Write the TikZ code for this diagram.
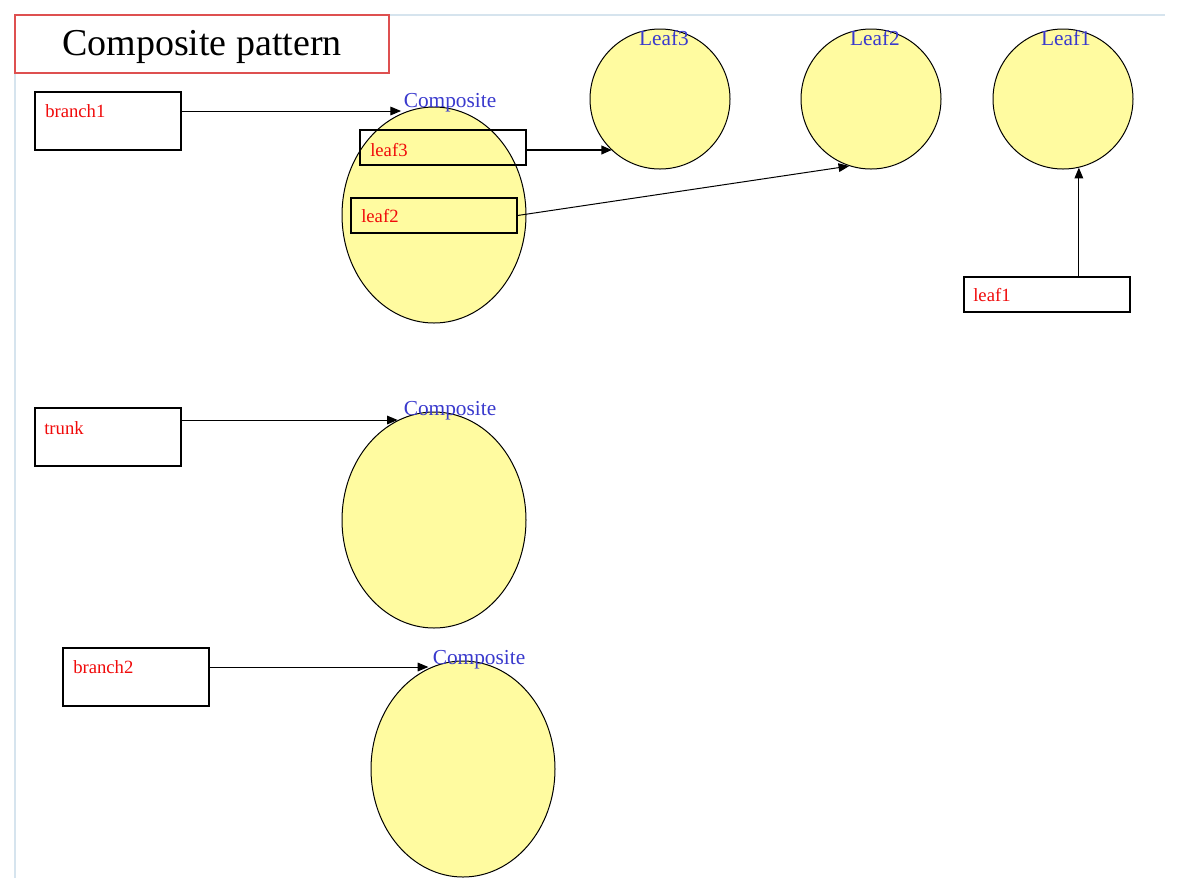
\documentclass[tikz,border=0pt]{standalone}
\usepackage{fontspec}
\setmainfont{Liberation Serif}
\usetikzlibrary{shapes.geometric,arrows.meta}
\definecolor{framegray}{RGB}{214,228,238}
\definecolor{titlered}{RGB}{222,80,80}
\definecolor{objyellow}{RGB}{255,251,160}
\definecolor{objblue}{RGB}{58,58,205}
\definecolor{varred}{RGB}{240,10,10}
\tikzset{
  frameline/.style={draw=framegray, line width=0.9pt},
  titlebox/.style={draw=titlered, line width=0.9pt, minimum width=280.5pt, minimum height=43.5pt, inner sep=0pt},
  refbox/.style={draw=black, line width=1.1pt, minimum width=109.5pt, minimum height=43.5pt, inner sep=0pt},
  slotbox/.style={draw=black, line width=0.8pt, minimum width=124.5pt, minimum height=26.25pt, inner sep=0pt},
  compobj/.style={ellipse, draw=black, line width=0.75pt, fill=objyellow, minimum width=138pt, minimum height=162pt, inner sep=0pt},
  leafobj/.style={ellipse, draw=black, line width=0.75pt, fill=objyellow, minimum width=105pt, minimum height=105pt, inner sep=0pt},
  objname/.style={text=objblue, font=\fontsize{16}{16}\selectfont, inner sep=0pt},
  varname/.style={text=varred, font=\fontsize{14}{14}\selectfont, inner sep=0pt, anchor=west},
  arr/.style={-{Triangle[length=8pt,width=6.5pt]}, line width=0.75pt},
  boldarr/.style={-{Triangle[length=8pt,width=6.5pt]}, line width=1.6pt}
}
\begin{document}
\begin{tikzpicture}[x=0.75pt,y=-0.75pt]
\useasboundingbox (0,0) rectangle (1182,894);
% page frame
\draw[frameline] (15,878) -- (15,15) -- (1165,15);

% title
\node[titlebox, fill=white] (title) at (202,44) {};
\node[font=\fontsize{28.5}{28.5}\selectfont, inner sep=0pt] (titletext) at (202,47) {Composite pattern};

% objects
\node[compobj] (c1) at (434,215) {};
\node[compobj] (c2) at (434,520) {};
\node[compobj] (c3) at (463,769) {};
\node[leafobj] (L3) at (660,99) {};
\node[leafobj] (L2) at (871,99) {};
\node[leafobj] (L1) at (1063,99) {};

% references
\node[refbox] (b1) at (108,121) {};
\node[varname] (b1t) at (45,111) {branch1};
\node[refbox] (tr) at (108,437) {};
\node[varname] (trt) at (44,428) {trunk};
\coordinate (trout) at (181,420);
\node[refbox] (b2) at (136,677) {};
\node[varname] (b2t) at (73,667) {branch2};

% child slots
\node[slotbox] (s3) at (443,147.5) {};
\node[varname] (s3t) at (370,150) {leaf3};
\node[slotbox] (s2) at (434,215.5) {};
\node[varname] (s2t) at (361,216) {leaf2};
\node[slotbox, fill=white] (s1) at (1047,294.5) {};
\node[varname] (s1t) at (973,295) {leaf1};

% connectors
\draw[arr] (b1.east |- b1t) -- (b1t -| c1.108);
\draw[arr] (trout) -- (trout -| c2.110);
\draw[arr] (b2.east |- b2t) -- (b2t -| c3.109);
\draw[boldarr] (s3t -| s3.east) -- (s3t -| L3.227);
\draw[arr] (s2.east) -- (L2.252);
\draw[arr] (L1.283 |- s1.north) -- (L1.283);

% object names
\node[objname] (c1n) at (450,103) {Composite};
\node[objname] (c2n) at (450,411) {Composite};
\node[objname] (c3n) at (479,660) {Composite};
\node[objname] (L3n) at (664,38) {Leaf3};
\node[objname] (L2n) at (875,38) {Leaf2};
\node[objname] (L1n) at (1066,38) {Leaf1};
\end{tikzpicture}
\end{document}
